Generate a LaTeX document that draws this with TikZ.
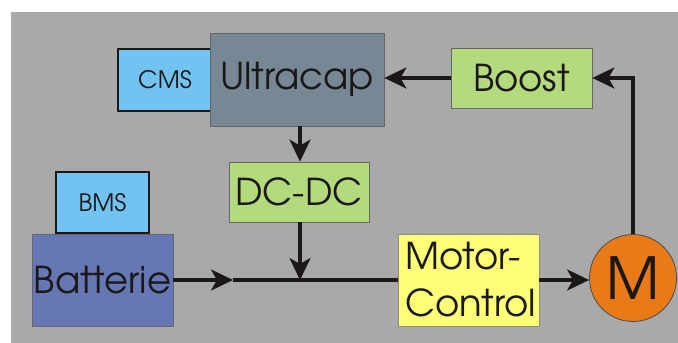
\documentclass[tikz,border=0pt]{standalone}
\usepackage{fontspec}
\setmainfont{texgyreadventor}[Extension=.otf, UprightFont=*-regular]
\usetikzlibrary{arrows.meta}

\definecolor{bggray}{RGB}{169,169,169}
\definecolor{capgray}{RGB}{118,136,148}
\definecolor{mgmtblue}{RGB}{115,195,242}
\definecolor{batblue}{RGB}{102,119,181}
\definecolor{convgreen}{RGB}{180,218,126}
\definecolor{ctrlyellow}{RGB}{255,255,120}
\definecolor{motororange}{RGB}{232,122,24}
\definecolor{wire}{RGB}{28,24,24}

\tikzset{
  block/.style={draw=black!60, line width=0.8pt, inner sep=0pt, font=\fontsize{37}{47}\selectfont, text=wire},
  mgmt/.style={draw=wire, line width=1.8pt, fill=mgmtblue, inner sep=0pt, font=\fontsize{24}{28}\selectfont, text=wire},
  flow/.style={draw=wire, line width=3.3pt, -{Stealth[length=22pt,width=21pt,inset=6pt]}},
  plain/.style={draw=wire, line width=3.3pt}
}

\begin{document}
\begin{tikzpicture}[x=1pt,y=1pt]
  % canvas and grey panel
  \useasboundingbox (0,0) rectangle (678,343);
  \fill[white] (0,0) rectangle (678,343);
  \fill[bggray] (11,0) rectangle (678,331);

  % management units sit behind their storage blocks
  \node[mgmt, minimum width=94pt, minimum height=62pt] (cms) at (165,263) {CMS};
  \node[block, fill=capgray, minimum width=174pt, minimum height=93pt] (ucap) at (297,263.5) {Ultracap};
  \node[mgmt, minimum width=93pt, minimum height=61pt] (bms) at (102.5,140.5) {BMS};
  \node[block, fill=batblue, minimum width=141pt, minimum height=92pt] (bat) at (102.5,63) {Batterie};

  % converters
  \node[block, fill=convgreen, minimum width=141pt, minimum height=60pt] (boost) at (521.5,265) {Boost};
  \node[block, fill=convgreen, minimum width=140pt, minimum height=60pt] (dcdc) at (299,151) {DC-DC};

  % drive
  \node[block, fill=ctrlyellow, draw=black!45, minimum width=141pt, minimum height=92pt,
        text width=127pt, align=left] (mc) at (468.5,63) {Motor-\\Control};
  \node[circle, draw=black!70, line width=0.8pt, fill=motororange, minimum size=87pt, inner sep=0pt,
        font=\fontsize{58}{60}\selectfont, text=wire] (mot) at (633,65) {M};

  % junction points on the main bus
  \coordinate (mid) at (233,63);
  \coordinate (tap) at (300,63);

  % connections
  \draw[flow] (boost.west) -- (boost.west -| ucap.east);
  \draw[flow] (tap |- ucap.south) -- (tap |- dcdc.north);
  \draw[flow] (tap |- dcdc.south) -- (tap);
  \draw[flow] (bat.east |- mid) -- (mid);
  \draw[plain] (mid) -- (mc.west |- mid);
  \draw[flow] (mc.east |- mid) -- (mot.west |- mid);
  \draw[flow] (mot.north) |- (boost.east);
\end{tikzpicture}
\end{document}
